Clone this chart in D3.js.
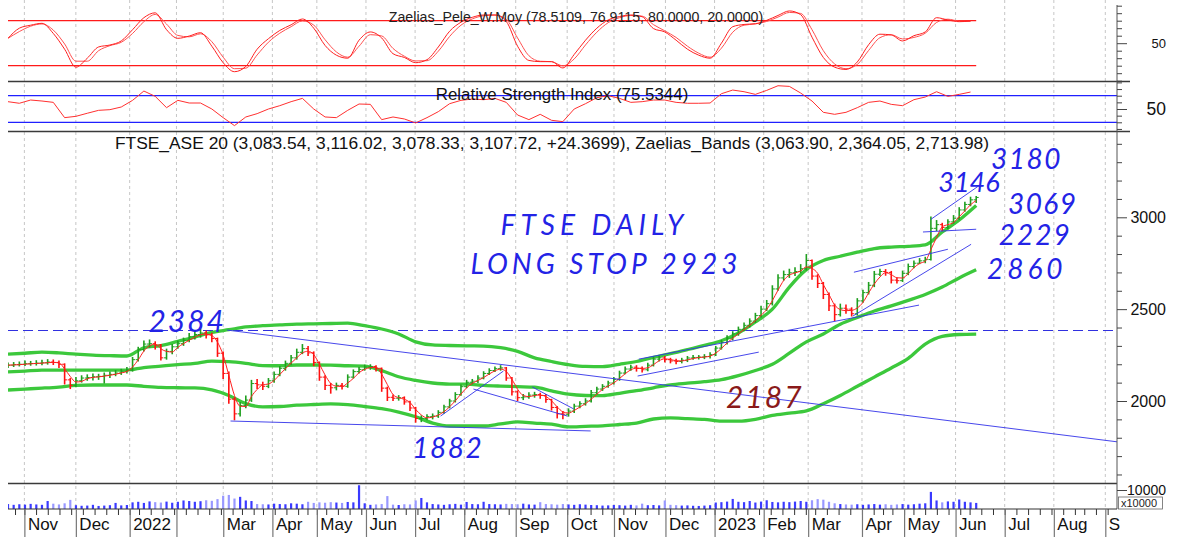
<!DOCTYPE html>
<html><head><meta charset="utf-8">
<script src="https://cdn.jsdelivr.net/npm/d3@7"></script>
<style>
body{margin:0;background:#fff;}
svg{display:block;font-family:"Liberation Sans",Arial,sans-serif;}
</style>
</head><body>
<svg id="c" width="1177" height="537"></svg>
<script>
// ---------------- DATA ----------------
// trading calendar of the exchange (weekdays minus market holidays)
const calendarStart = new Date(2021, 9, 20);
const calendarEnd = new Date(2023, 8, 9);
const holidays = ["2021-10-28","2022-01-06","2022-03-07","2022-03-25","2022-04-22","2022-04-25",
  "2022-05-02","2022-06-13","2022-08-15","2022-10-28","2022-12-26","2023-01-06","2023-02-27","2023-04-14",
  "2023-04-17","2023-05-01","2023-06-05","2023-08-15"];
const sessionsPerBar = 2.42;   // each price bar below spans about half a trading week
const firstOpen = 2190;
const closes = [
2195,2198,2200,2203,2204,2206,2208,2212,2210,2200,
2115,2085,2110,2125,2128,2132,2134,2140,2145,2152,
2162,2168,2225,2280,2310,2312,2305,2235,2270,2295,
2312,2330,2350,2362,2370,2360,2340,2260,2150,2010,
1930,1975,2005,2095,2088,2080,2110,2145,2178,2205,
2235,2265,2285,2262,2210,2130,2085,2072,2085,2080,
2130,2160,2172,2185,2188,2178,2070,2020,2015,2018,
1995,1962,1905,1905,1915,1918,1938,1968,2000,2035,
2078,2102,2108,2125,2150,2166,2176,2180,2125,2050,
2018,2022,2032,2035,2030,2008,1965,1930,1928,1945,
1972,1985,2000,2045,2065,2080,2098,2118,2152,2174,
2184,2178,2170,2195,2228,2235,2225,2218,2215,2222,
2234,2237,2239,2242,2252,2288,2318,2342,2365,2390,
2412,2435,2465,2500,2530,2610,2670,2688,2698,2705,
2720,2765,2680,2640,2580,2518,2470,2505,2500,2475,
2545,2590,2630,2690,2705,2700,2658,2655,2695,2732,
2750,2763,2770,2940,2960,2945,2975,2995,3040,3070,
3095,3108];
const highs = [
2210,2212,2215,2220,2218,2222,2225,2228,2226,2220,
2205,2125,2130,2140,2145,2150,2148,2155,2160,2168,
2175,2185,2240,2295,2330,2335,2325,2310,2285,2310,
2330,2345,2370,2380,2391,2384,2372,2345,2270,2160,
2020,1995,2030,2115,2120,2105,2125,2160,2190,2220,
2250,2285,2310,2300,2270,2215,2140,2098,2100,2098,
2145,2172,2185,2198,2200,2195,2182,2078,2035,2032,
2025,2002,1968,1922,1928,1932,1950,1980,2012,2048,
2090,2115,2120,2140,2162,2178,2188,2195,2185,2130,
2058,2038,2048,2050,2045,2038,2012,1972,1945,1960,
1985,1998,2015,2060,2078,2092,2110,2130,2165,2188,
2198,2195,2188,2208,2242,2248,2245,2235,2230,2235,
2245,2250,2250,2255,2265,2300,2332,2358,2380,2405,
2428,2450,2480,2518,2550,2630,2690,2710,2720,2728,
2745,2800,2770,2690,2648,2590,2530,2530,2525,2510,
2560,2605,2648,2708,2720,2718,2708,2672,2710,2748,
2765,2778,2785,3005,2985,2970,2990,3012,3055,3085,
3112,3116];
const lows = [
2180,2185,2188,2190,2192,2193,2195,2198,2196,2180,
2090,2065,2075,2100,2110,2112,2115,2095,2125,2135,
2142,2150,2160,2215,2270,2290,2280,2220,2225,2255,
2285,2300,2320,2335,2345,2340,2320,2240,2120,1985,
1895,1915,1960,1995,2065,2060,2070,2100,2135,2165,
2195,2225,2255,2245,2190,2110,2060,2040,2058,2062,
2072,2122,2150,2165,2170,2160,2050,2000,2000,2002,
1980,1945,1882,1885,1895,1900,1908,1930,1960,1992,
2028,2070,2090,2098,2118,2142,2158,2165,2110,2030,
2000,2005,2012,2018,2012,1990,1948,1905,1900,1915,
1935,1960,1975,1992,2035,2055,2072,2090,2110,2145,
2165,2160,2155,2162,2188,2215,2210,2205,2200,2205,
2212,2225,2226,2228,2232,2245,2280,2308,2330,2355,
2380,2400,2425,2455,2490,2520,2600,2655,2670,2680,
2695,2710,2660,2615,2555,2490,2435,2460,2475,2460,
2465,2535,2580,2620,2680,2682,2640,2640,2648,2685,
2722,2745,2750,2765,2925,2925,2935,2965,2985,3030,
3060,3078];
const volumes = [
2600,2200,2500,2300,2700,2400,2200,4200,2800,2400,
3000,4800,2000,1700,1800,2200,1600,1800,2000,3200,
1900,2100,3500,3800,3200,4000,3600,3400,3900,3300,
3800,4500,4200,3800,4100,4600,4300,5200,7000,7400,
5500,6400,4500,4200,2600,2500,2400,2800,2600,2500,
3000,2800,2500,3800,3200,3500,3300,3600,3400,3200,
3700,3500,12500,3000,2200,2400,2600,6800,2300,2100,
2500,2400,4500,5800,3500,2600,2400,2200,2500,2700,
2300,3700,2600,2500,3800,2600,2500,2400,2700,2600,
2500,2800,2400,2300,3600,2600,2500,2300,2600,2400,
2200,2500,2300,2100,2000,1800,1900,2100,2000,1800,
2200,1900,2800,2000,2100,1900,4500,2200,2000,1800,
1900,1700,1600,1800,2000,3400,3600,3900,5300,3800,
3600,4200,3400,3900,4600,3700,3500,3800,3600,3900,
4200,3800,4600,5200,4900,3800,3000,2600,2400,2300,
2500,2200,2400,2600,2300,2500,2200,2400,2600,2300,
2500,2800,3000,9000,4500,3500,4000,3800,5000,3800,
3500,3200];
// weekly oscillators (one value every 2 bars)
const peleFast = [
56.5,70,74,76.5,63,42,18,30,45,47.6,
53,68,84,90.5,68,56.5,59.5,64,46,24,
12,19,42,56,67,74.5,82.3,70,47,34,
30,54,65,57,36,31,24,28,45,66,
78,84.5,87.6,87.6,79,46,27,25.4,25.4,17,
35,54,70,81,85.5,87.6,85.3,69.5,65,54,
42,34,30,50,72,75,76,80.5,87,93,
88,58,31,18,15,25,48,62,61,53,
60,65,84,81,78.7,79.5];
const rsiValues = [
61,58.6,63.5,62,60,37,39,43.6,48,49,
53,63,77,69,52,63,59,59,50,37,
25,38,43,50,55,61,66,50,38,37,
48,57.5,57,34,38,35,29,37,46,58,
63,65,64,66,60,41,34,42,33,31,
50,58,67,70,66,60,61,63.5,63.5,60,
58.6,58.6,59,73,78.5,76,72,78,85,84,
74,62,45,42,45,52,60,62,57,55,
64,68,76,69,72,75.5];
// Zaelias bands, one value every 3 bars
const bandUpper = [
2255,2260,2266,2262,2255,2250,2247,2245,2290,2302,
2325,2348,2373,2388,2403,2410,2414,2418,2420,2422,
2424,2410,2392,2365,2322,2305,2302,2300,2299,2290,
2270,2235,2215,2198,2188,2187,2200,2215,2238,2258,
2280,2303,2328,2370,2430,2500,2620,2715,2765,2788,
2810,2830,2838,2842,2850,2920,2985,3064];
const bandMiddle = [
2158,2163,2168,2168,2168,2168,2168,2168,2182,2190,
2198,2205,2217,2214,2205,2193,2192,2196,2196,2195,
2192,2190,2165,2132,2112,2098,2092,2092,2085,2081,
2078,2075,2055,2037,2030,2029,2042,2056,2072,2088,
2097,2105,2116,2138,2166,2200,2260,2322,2365,2418,
2455,2490,2518,2548,2580,2620,2670,2714];
const bandLower = [
2060,2065,2070,2076,2085,2087,2087,2087,2080,2074,
2072,2071,2060,2030,1986,1968,1970,1977,1981,1984,
1980,1970,1958,1940,1914,1880,1864,1864,1864,1875,
1886,1880,1874,1859,1862,1865,1872,1880,1902,1908,
1904,1900,1890,1890,1900,1922,1934,1946,1985,2030,
2080,2130,2180,2232,2310,2352,2362,2364];
const monthLabels = ["Nov","Dec","2022","","Mar","Apr","May","Jun","Jul","Aug","Sep","Oct",
  "Nov","Dec","2023","Feb","Mar","Apr","May","Jun","Jul","Aug","S"];
const priceTickLabels = [2000, 2500, 3000];
const stopLevel = 2384;
// trend lines: [bar index from, price from, bar index to, price to]
const trendLines = [
 [38.7,2386,196.1,1777],
 [39.3,1891,102.9,1837],
 [76.4,1918,87.5,2163],
 [82.2,2065,98.8,1918],
 [92.6,2076,99.9,1957],
 [111.4,2228,160.9,2522],
 [111.2,2136,132.6,2266],
 [149.2,2462,170.1,2853],
 [149.4,2701,166,2826],
 [163,2989,171.3,3168],
 [161.6,2920,171,2935]
];
const notes = [
 {t:"2384", i:24.8, p:2377, s:30, ls:2, c:"#2323e6"},
 {t:"FTSE DAILY", i:87, p:2902, s:28, ls:5, c:"#2323e6"},
 {t:"LONG STOP 2923", i:81.7, p:2694, s:28, ls:4, c:"#2323e6"},
 {t:"3180", i:173.6, p:3262, s:28, ls:1.5, c:"#2323e6"},
 {t:"3146", i:164.3, p:3137, s:27, ls:0, c:"#2323e6"},
 {t:"3069", i:176.6, p:3016, s:28, ls:1.5, c:"#2323e6"},
 {t:"2229", i:175, p:2849, s:28, ls:2, c:"#2323e6"},
 {t:"2860", i:172.9, p:2664, s:28, ls:4, c:"#2323e6"},
 {t:"1882", i:71.4, p:1689, s:28, ls:1.5, c:"#2323e6"},
 {t:"2187", i:126.8, p:1962, s:30, ls:2, c:"#8a1a1a"}
];
const titlePele = "Zaelias_Pele_W.Moy (78.5109, 76.9115, 80.0000, 20.0000)";
const titleRsi = "Relative Strength Index (75.5344)";
const titleMain = "FTSE_ASE 20 (3,083.54, 3,116.02, 3,078.33, 3,107.72, +24.3699), Zaelias_Bands (3,063.90, 2,364.05, 2,713.98)";

// ---------------- LAYOUT ----------------
const svg = d3.select("#c");
const X0 = 8, X1 = 1117;
const fmtDay = d3.timeFormat("%Y-%m-%d");
const sessions = d3.timeDay.range(calendarStart, calendarEnd)
  .filter(d => d.getDay() !== 0 && d.getDay() !== 6 && !holidays.includes(fmtDay(d)));
const xS = d3.scaleLinear().domain([0, sessions.length - 1]).range([X0, X1]);
const xi = i => xS(i * sessionsPerBar);
const yP = d3.scaleLinear().domain([2000,3000]).range([401,217.3]);
const yPele = d3.scaleLinear().domain([20,80]).range([65.7,20.7]);
const yRsi = d3.scaleLinear().domain([30,70]).range([122.3,95.7]);
const yVol = d3.scaleLinear().domain([0,10000]).range([509,490]);

// first session of each month / week
const monthIdx = [], weekIdx = [];
sessions.forEach((d, k) => {
  if (k > 0 && d.getMonth() !== sessions[k - 1].getMonth()) monthIdx.push(k);
  if (k > 0 && +d3.timeMonday.floor(d) !== +d3.timeMonday.floor(sessions[k - 1])) weekIdx.push(k);
});

const defs = svg.append("defs");
const clip = (id, y0, y1) => defs.append("clipPath").attr("id", id)
  .append("rect").attr("x", X0).attr("y", y0).attr("width", X1 - X0).attr("height", y1 - y0);
clip("cTop", 0, 81); clip("cRsi", 82, 131); clip("cMain", 132, 483); clip("cVol", 484, 509);

// grid
svg.append("g").selectAll("line").data(monthIdx).join("line")
  .attr("x1", d => xS(d)).attr("x2", d => xS(d)).attr("y1", 0).attr("y2", 509)
  .attr("stroke", "#c6c6c6").attr("stroke-dasharray", "3,3");

// ---- top oscillator ----
const gTop = svg.append("g").attr("clip-path", "url(#cTop)");
[80, 20].forEach(v => gTop.append("line").attr("x1", X0).attr("x2", xi(171))
  .attr("y1", yPele(v)).attr("y2", yPele(v)).attr("stroke", "#ff1a1a").attr("stroke-width", 1.2));
const peleSlow = peleFast.map((v, j) => j === 0 ? v : (2 * v + peleFast[j - 1]) / 3);
const wLine = d3.line().x((d, j) => xi(2 * j)).curve(d3.curveMonotoneX);
gTop.append("path").attr("d", wLine.y(d => yPele(d))(peleSlow)).attr("fill", "none")
  .attr("stroke", "#ff5050").attr("stroke-width", 1);
gTop.append("path").attr("d", wLine.y(d => yPele(d))(peleFast)).attr("fill", "none")
  .attr("stroke", "#ff2020").attr("stroke-width", 1);
svg.append("text").attr("x", 576).attr("y", 22).attr("text-anchor", "middle")
  .attr("font-size", 14.2).attr("fill", "#222").text(titlePele);

// ---- RSI ----
const gRsi = svg.append("g").attr("clip-path", "url(#cRsi)");
[70, 30].forEach(v => gRsi.append("line").attr("x1", X0).attr("x2", X1)
  .attr("y1", yRsi(v)).attr("y2", yRsi(v)).attr("stroke", "#2020ff").attr("stroke-width", 1.2));
gRsi.append("path").attr("d", d3.line().x((d, j) => xi(2 * j)).y(d => yRsi(d))(rsiValues))
  .attr("fill", "none").attr("stroke", "#ff3030").attr("stroke-width", 1);
svg.append("text").attr("x", 562).attr("y", 100).attr("text-anchor", "middle")
  .attr("font-size", 16.9).attr("fill", "#111").text(titleRsi);

// ---- main ----
const gMain = svg.append("g").attr("clip-path", "url(#cMain)");
gMain.append("line").attr("x1", X0).attr("x2", X1).attr("y1", yP(stopLevel)).attr("y2", yP(stopLevel))
  .attr("stroke", "#3030e0").attr("stroke-dasharray", "10,5").attr("stroke-width", 1.1);
const bLine = d3.line().x((d, k) => xi(3 * k)).y(d => yP(d)).curve(d3.curveMonotoneX);
[bandUpper, bandMiddle, bandLower].forEach(b => gMain.append("path").attr("d", bLine(b))
  .attr("fill", "none").attr("stroke", "#3cc83c").attr("stroke-width", 3.3));

const bars = closes.map((c, i) => ({i, o: i === 0 ? firstOpen : closes[i - 1], h: highs[i], l: lows[i], c}));
const gBars = gMain.append("g");
bars.forEach(b => {
  const col = b.c >= b.o ? "#1f9f1f" : "#ff1010";
  const bx = xi(b.i);
  gBars.append("line").attr("x1", bx).attr("x2", bx).attr("y1", yP(b.h)).attr("y2", yP(b.l))
    .attr("stroke", col).attr("stroke-width", 1.6);
  gBars.append("line").attr("x1", bx - 2.5).attr("x2", bx).attr("y1", yP(b.o)).attr("y2", yP(b.o))
    .attr("stroke", col).attr("stroke-width", 1);
  gBars.append("line").attr("x1", bx).attr("x2", bx + 2.5).attr("y1", yP(b.c)).attr("y2", yP(b.c))
    .attr("stroke", col).attr("stroke-width", 1);
});
const ma = closes.map((c, i) => d3.mean(closes.slice(Math.max(0, i - 2), i + 1)));
gMain.append("path").attr("d", d3.line().x((d, i) => xi(i)).y(d => yP(d)).curve(d3.curveMonotoneX)(ma))
  .attr("fill", "none").attr("stroke", "#ff2020").attr("stroke-width", 1);

gMain.append("g").selectAll("line").data(trendLines).join("line")
  .attr("x1", d => xi(d[0])).attr("y1", d => yP(d[1])).attr("x2", d => xi(d[2])).attr("y2", d => yP(d[3]))
  .attr("stroke", "#3434ea").attr("stroke-width", 1).attr("opacity", 0.9);

gMain.append("g").selectAll("text").data(notes).join("text")
  .attr("x", d => xi(d.i)).attr("y", d => yP(d.p))
  .attr("font-size", d => d.s).attr("letter-spacing", d => d.ls)
  .attr("font-family", "Lato, 'Liberation Sans', sans-serif").attr("font-weight", 400)
  .attr("font-style", "italic").attr("fill", d => d.c).text(d => d.t);

svg.append("text").attr("x", 552).attr("y", 149).attr("text-anchor", "middle")
  .attr("font-size", 17.4).attr("fill", "#111").text(titleMain);

// ---- volume ----
const gVol = svg.append("g").attr("clip-path", "url(#cVol)");
gVol.selectAll("rect").data(volumes).join("rect")
  .attr("x", (d, i) => xi(i) - 1.1).attr("width", 2.2)
  .attr("y", d => yVol(d)).attr("height", d => yVol(0) - yVol(d))
  .attr("fill", (d, i) => bars[i].c >= bars[i].o ? "#3a3aff" : "#9898ff");

// ---- separators & frame ----
[[81.5, 1130], [131.5, 1130], [483.5, X1]].forEach(([yy, xe]) => svg.append("line")
  .attr("x1", X0).attr("x2", xe).attr("y1", yy).attr("y2", yy).attr("stroke", "#3a3a3a").attr("stroke-width", 1.5));
svg.append("line").attr("x1", X1).attr("x2", X1).attr("y1", 5).attr("y2", 509).attr("stroke", "#555");
svg.append("line").attr("x1", X0).attr("x2", X1).attr("y1", 509).attr("y2", 509).attr("stroke", "#333");

// ---- right axes ----
function styleAxis(g, majors, len, fs) {
  g.select(".domain").remove();
  g.selectAll(".tick line").attr("stroke", "#444").attr("x2", d => majors.includes(d) ? len : 5);
  g.selectAll(".tick text").attr("x", 49).attr("text-anchor", "end").attr("font-size", fs).attr("fill", "#111")
    .attr("font-family", "Liberation Sans, Arial, sans-serif");
}
const gPA = svg.append("g").attr("transform", `translate(${X1},0)`)
  .call(d3.axisRight(yP).tickValues(d3.range(1600, 3500, 100)).tickSize(5)
    .tickFormat(d => priceTickLabels.includes(d) ? d : ""));
styleAxis(gPA, [2000, 2500, 3000], 10, 16);
const gTA = svg.append("g").attr("transform", `translate(${X1},0)`)
  .call(d3.axisRight(yPele).tickValues(d3.range(0, 101, 10)).tickSize(5).tickFormat(d => d === 50 ? d : ""));
styleAxis(gTA, [50], 10, 13);
const gRA = svg.append("g").attr("transform", `translate(${X1},0)`)
  .call(d3.axisRight(yRsi).tickValues(d3.range(20, 91, 10)).tickSize(5).tickFormat(d => d === 50 ? d : ""));
styleAxis(gRA, [50], 10, 17.5);
const gVA = svg.append("g").attr("transform", `translate(${X1},0)`)
  .call(d3.axisRight(yVol).tickValues([10000]).tickSize(10).tickFormat(d => d));
styleAxis(gVA, [10000], 10, 14);
svg.append("rect").attr("x", X1 + 1.5).attr("y", 497).attr("width", 44).attr("height", 12)
  .attr("fill", "none").attr("stroke", "#666").attr("stroke-width", 0.8);
svg.append("text").attr("x", X1 + 4).attr("y", 507).attr("font-size", 11).attr("fill", "#222").text("x10000");

// ---- bottom axis ----
const gW = svg.append("g").attr("transform", "translate(0,509)")
  .call(d3.axisBottom(xS).tickValues(weekIdx).tickSize(6).tickFormat(""));
gW.select(".domain").remove();
gW.selectAll(".tick line").attr("stroke", "#333");
const gM = svg.append("g").attr("transform", "translate(0,509)")
  .call(d3.axisBottom(xS).tickValues(monthIdx).tickSize(28).tickFormat((d, k) => monthLabels[k] || ""));
gM.select(".domain").remove();
gM.selectAll(".tick line").attr("stroke", "#777").attr("stroke-width", 1.2);
gM.selectAll(".tick text").attr("x", 3).attr("y", 21).attr("dy", 0).attr("text-anchor", "start")
  .attr("font-size", 17).attr("fill", "#111").attr("font-family", "Liberation Sans, Arial, sans-serif");
</script>
</body></html>
